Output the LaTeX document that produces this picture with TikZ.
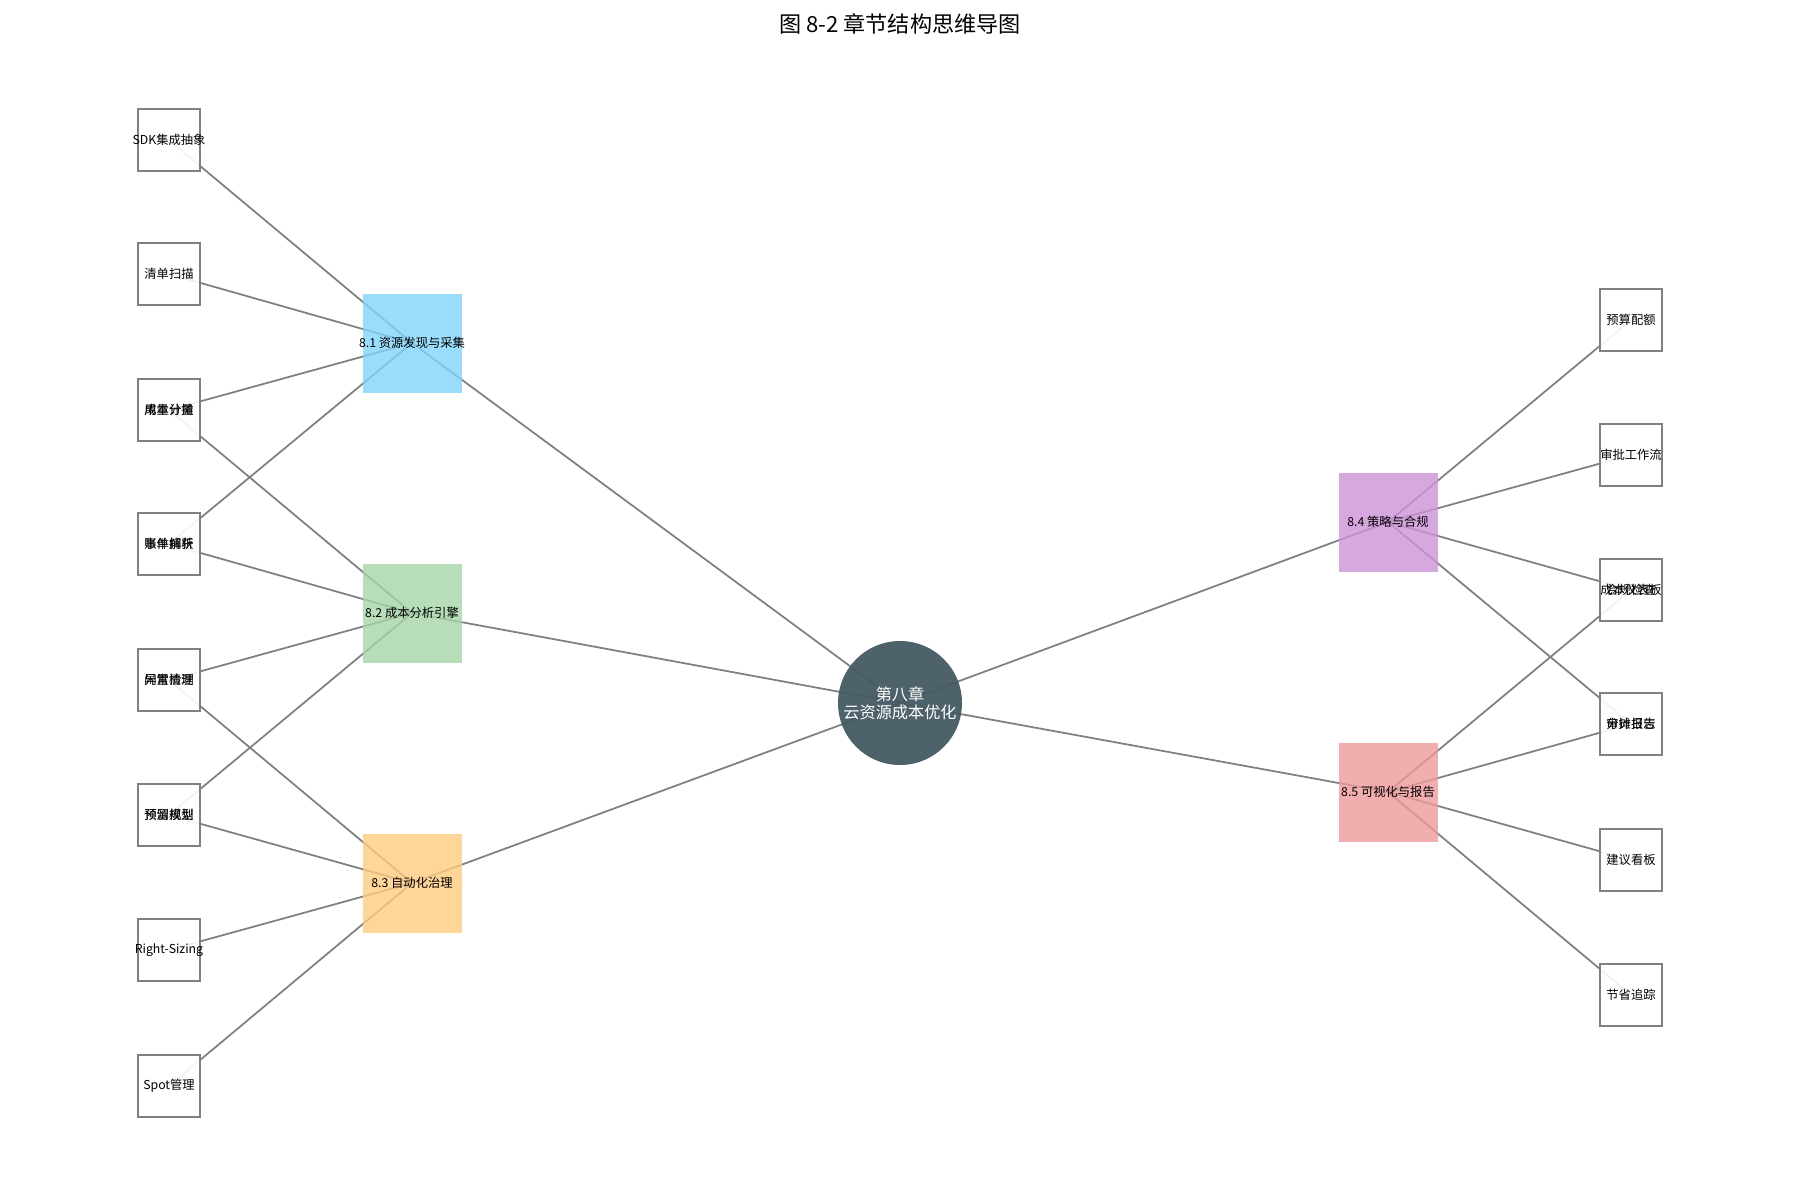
\documentclass[tikz,border=0pt]{standalone}
\usepackage{fontspec}
\setmainfont{Noto Sans CJK SC}
\usepackage{tikz}
\usetikzlibrary{backgrounds}
\definecolor{edgegray}{HTML}{808080}
\definecolor{hubcol}{HTML}{455A64}
\definecolor{c81}{HTML}{81D4FA}
\definecolor{c82}{HTML}{A5D6A7}
\definecolor{c83}{HTML}{FFCC80}
\definecolor{c84}{HTML}{CE93D8}
\definecolor{c85}{HTML}{EF9A9A}
% text that does not widen its box
\newcommand{\zw}[1]{\makebox[0pt]{#1}}

\begin{document}
\begin{tikzpicture}[x=0.1mm,y=-0.1mm,
  every node/.style={font=\fontsize{3.5}{4.2}\selectfont},
  link/.style={draw=edgegray, line width=0.5pt},
  hub/.style={circle, fill=hubcol, fill opacity=0.95, text opacity=1, text=white,
    minimum size=12.4mm, inner sep=0pt, align=center, font=\fontsize{4.6}{5.2}\selectfont},
  sec/.style={rectangle, fill opacity=0.8, text opacity=1, minimum size=9.9mm, inner sep=0pt},
  leaf/.style={rectangle, draw=gray, line width=0.3pt, fill=white, fill opacity=0.9,
    text opacity=1, minimum size=6.2mm, inner sep=0pt},
  dup/.style={leaf, fill=none},
]
  \useasboundingbox (0,0) rectangle (1800,1200);

  \node[font=\fontsize{6.3}{7}\selectfont] (title) at (900,24) {图 8-2 章节结构思维导图};

  \node[hub] (C) at (900,703) {第八章\\云资源成本优化};

  \node[sec,fill=c81] (S1) at (412,343) {\zw{8.1 资源发现与采集}};
  \node[sec,fill=c82] (S2) at (412,613) {\zw{8.2 成本分析引擎}};
  \node[sec,fill=c83] (S3) at (412,883) {\zw{8.3 自动化治理}};
  \node[sec,fill=c84] (S4) at (1388,522) {\zw{8.4 策略与合规}};
  \node[sec,fill=c85] (S5) at (1388,792) {\zw{8.5 可视化与报告}};

  % left leaves
  \node[leaf] (sdk) at (169,140) {\zw{SDK集成抽象}};
  \node[leaf] (inv) at (169,274) {\zw{清单扫描}};
  \node[leaf] (use) at (169,410) {\zw{用量计量}};
  \node[dup] (alloc) at (169,410) {\zw{成本分摊}};
  \node[leaf] (evt) at (169,544) {\zw{事件捕获}};
  \node[dup] (bill) at (169,544) {\zw{账单解析}};
  \node[leaf] (idle) at (169,680) {\zw{闲置清理}};
  \node[dup] (anom) at (169,680) {\zw{异常检测}};
  \node[leaf] (fcst) at (169,815) {\zw{预测模型}};
  \node[dup] (resv) at (169,815) {\zw{预留规划}};
  \node[leaf] (rsz) at (169,950) {\zw{Right-Sizing}};
  \node[leaf] (spot) at (169,1086) {\zw{Spot管理}};

  % right leaves
  \node[leaf] (bud) at (1631,320) {\zw{预算配额}};
  \node[leaf] (appr) at (1631,455) {\zw{审批工作流}};
  \node[leaf] (dash) at (1631,590) {\zw{成本仪表板}};
  \node[dup] (chk) at (1631,590) {\zw{合规检查}};
  \node[leaf] (audit) at (1631,724) {\zw{审计日志}};
  \node[dup] (rep) at (1631,724) {\zw{分摊报告}};
  \node[leaf] (adv) at (1631,860) {\zw{建议看板}};
  \node[leaf] (save) at (1631,995) {\zw{节省追踪}};

  \begin{scope}[on background layer]
    \fill[white] (0,0) rectangle (1800,1200);
    \foreach \s in {S1,S2,S3,S4,S5}
      \draw[link] (C.center) -- (\s.center);
    \foreach \l in {sdk,inv,use,evt}
      \draw[link] (S1.center) -- (\l.center);
    \foreach \l in {alloc,bill,anom,fcst}
      \draw[link] (S2.center) -- (\l.center);
    \foreach \l in {idle,resv,rsz,spot}
      \draw[link] (S3.center) -- (\l.center);
    \foreach \l in {bud,appr,chk,audit}
      \draw[link] (S4.center) -- (\l.center);
    \foreach \l in {dash,rep,adv,save}
      \draw[link] (S5.center) -- (\l.center);
  \end{scope}
\end{tikzpicture}
\end{document}
